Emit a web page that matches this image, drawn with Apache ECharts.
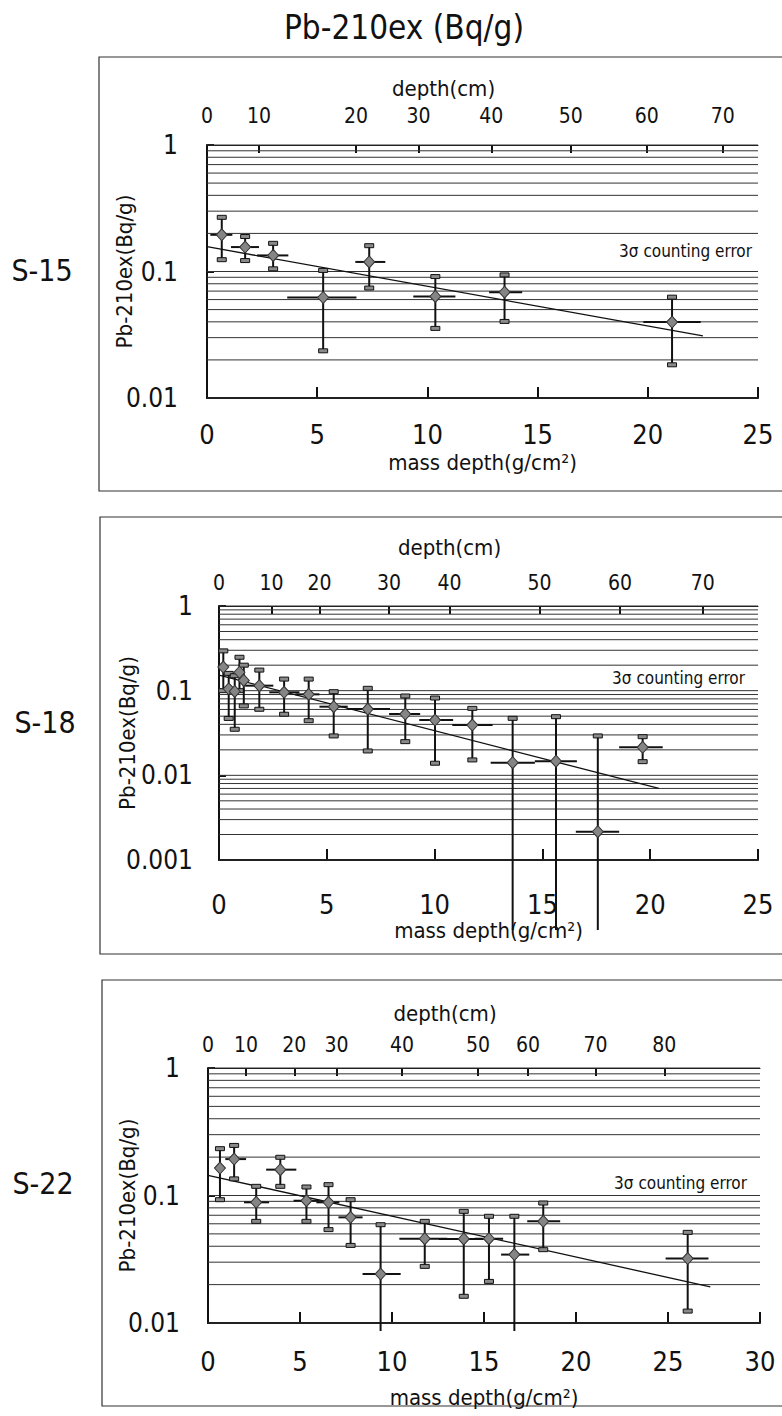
<!DOCTYPE html>
<html>
<head>
<meta charset="utf-8">
<title>Pb-210ex (Bq/g)</title>
<script src="https://cdn.jsdelivr.net/npm/echarts@6/dist/echarts.min.js"></script>
<style>
  html, body { margin: 0; padding: 0; background: #fff; }
  #chart { width: 782px; height: 1416px; }
</style>
</head>
<body>
<div id="chart"></div>
<script>
const FONT = '"DejaVu Sans Condensed", "Liberation Sans Narrow", "DejaVu Sans", sans-serif';

// ---- S-15 ----
const s15Mass   = [0.67, 1.73, 3.0, 5.27, 7.36, 10.36, 13.5, 21.1];
const s15Pb     = [0.195, 0.156, 0.134, 0.0623, 0.119, 0.0635, 0.0687, 0.0398];
const s15PbHi   = [0.268, 0.189, 0.167, 0.102, 0.160, 0.0912, 0.094, 0.0627];
const s15PbLo   = [0.124, 0.122, 0.105, 0.0236, 0.074, 0.0355, 0.0403, 0.0183];
const s15MassLo = [0.15, 1.09, 2.27, 3.64, 6.73, 9.36, 12.8, 19.8];
const s15MassHi = [1.15, 2.36, 3.69, 6.78, 8.09, 11.27, 14.3, 22.4];
const s15Fit    = [[0, 0.157], [22.5, 0.031]];
const s15DepthLabels = [0, 10, 20, 30, 40, 50, 60, 70];
const s15DepthAtMass = [0, 2.36, 6.76, 9.6, 12.9, 16.5, 19.95, 23.4];

// ---- S-18 ---- (lower bound 0 = 3σ interval reaches below zero)
const s18Mass   = [0.2, 0.45, 0.73, 0.95, 1.15, 1.87, 3.02, 4.16, 5.32, 6.9, 8.64, 10.02, 11.75, 13.62, 15.63, 17.57, 19.65];
const s18Pb     = [0.19, 0.105, 0.098, 0.165, 0.132, 0.1146, 0.0956, 0.0905, 0.0647, 0.0607, 0.053, 0.045, 0.0393, 0.0141, 0.0147, 0.00216, 0.0214];
const s18PbHi   = [0.295, 0.16, 0.15, 0.248, 0.20, 0.175, 0.137, 0.137, 0.0973, 0.1066, 0.0865, 0.0819, 0.0618, 0.0471, 0.0493, 0.0292, 0.0286];
const s18PbLo   = [0.10, 0.047, 0.035, 0.10, 0.066, 0.0603, 0.0527, 0.0442, 0.0292, 0.0194, 0.025, 0.0139, 0.0152, 0, 0, 0, 0.0145];
const s18MassLo = [0, 0.3, 0.6, 0.8, 1.0, 1.21, 2.33, 3.54, 4.66, 5.93, 7.89, 9.29, 10.82, 12.6, 14.65, 16.55, 18.56];
const s18MassHi = [0.4, 0.6, 0.85, 1.1, 1.3, 2.52, 3.73, 4.66, 5.97, 7.93, 9.33, 10.86, 12.69, 14.65, 16.6, 18.56, 20.58];
const s18Fit    = [[0, 0.153], [20.4, 0.0070]];
const s18DepthLabels = [0, 10, 20, 30, 40, 50, 60, 70];
const s18DepthAtMass = [0, 2.43, 4.66, 7.89, 10.69, 14.87, 18.6, 22.44];

// ---- S-22 ----
const s22Mass   = [0.65, 1.42, 2.62, 3.93, 5.35, 6.55, 7.75, 9.38, 11.78, 13.9, 15.27, 16.65, 18.22, 26.07];
const s22Pb     = [0.164, 0.193, 0.0884, 0.1595, 0.091, 0.0884, 0.0674, 0.0242, 0.0458, 0.0456, 0.0458, 0.0344, 0.0627, 0.032];
const s22PbHi   = [0.233, 0.247, 0.118, 0.1994, 0.1166, 0.1216, 0.0927, 0.059, 0.0627, 0.0751, 0.0687, 0.0687, 0.0873, 0.0514];
const s22PbLo   = [0.0927, 0.135, 0.0627, 0.118, 0.0627, 0.054, 0.0406, 0, 0.0278, 0.0162, 0.0212, 0, 0.0376, 0.0124];
const s22MassLo = [0.45, 0.94, 1.96, 3.16, 4.65, 5.89, 7.09, 8.4, 10.4, 12.55, 14.5, 15.93, 17.35, 24.87];
const s22MassHi = [0.85, 2.07, 3.32, 4.8, 6.07, 7.14, 8.4, 10.47, 13.0, 14.95, 16.04, 17.46, 19.14, 27.2];
const s22Fit    = [[0, 0.144], [27.3, 0.0192]];
const s22DepthLabels = [0, 10, 20, 30, 40, 50, 60, 70, 80];
const s22DepthAtMass = [0, 2.07, 4.69, 6.98, 10.54, 14.68, 17.39, 21.06, 24.8];

// Panel layout and per-panel styling
const panels = [
  { name: 'S-15', mass: s15Mass, pb: s15Pb, hi: s15PbHi, lo: s15PbLo, mLo: s15MassLo, mHi: s15MassHi, fit: s15Fit,
    depthLabels: s15DepthLabels, depthAt: s15DepthAtMass, xMax: 25, yMin: 0.01,
    grid: { left: 207, top: 145, width: 551, height: 253 },
    box: { x: 99, y: 57, h: 434 }, tag: { x: 42, y: 270 }, note: { x: 752, y: 251 },
    topMargin: 19, topNameGap: 46, botMargin: 23, botNameGap: 53, yMargin: 29, yNameGap: 72, belowExt: 8 },
  { name: 'S-18', mass: s18Mass, pb: s18Pb, hi: s18PbHi, lo: s18PbLo, mLo: s18MassLo, mHi: s18MassHi, fit: s18Fit,
    depthLabels: s18DepthLabels, depthAt: s18DepthAtMass, xMax: 25, yMin: 0.001,
    grid: { left: 219, top: 606, width: 539, height: 254 },
    box: { x: 100, y: 517, h: 437 }, tag: { x: 45, y: 722 }, note: { x: 745, y: 678 },
    topMargin: 13, topNameGap: 48, botMargin: 31, botNameGap: 59, yMargin: 26, yNameGap: 81, belowExt: 70 },
  { name: 'S-22', mass: s22Mass, pb: s22Pb, hi: s22PbHi, lo: s22PbLo, mLo: s22MassLo, mHi: s22MassHi, fit: s22Fit,
    depthLabels: s22DepthLabels, depthAt: s22DepthAtMass, xMax: 30, yMin: 0.01,
    grid: { left: 208, top: 1068, width: 552, height: 255 },
    box: { x: 102, y: 980, h: 426 }, tag: { x: 43, y: 1183 }, note: { x: 747, y: 1183 },
    topMargin: 13, topNameGap: 44, botMargin: 25, botNameGap: 63, yMargin: 28, yNameGap: 70, belowExt: 8 }
];

const INK = '#111';

function logGridValues(yMin) {
  const vals = [];
  const d0 = Math.round(Math.log10(yMin));
  for (let d = d0; d < 0; d++) {
    for (let k = 1; k <= 9; k++) vals.push(+(k * Math.pow(10, d)).toPrecision(6));
  }
  vals.push(1);
  return vals;
}

function decadeLabel(v) {
  const e = Math.round(Math.log10(v));
  return e >= 0 ? String(Math.pow(10, e)) : Math.pow(10, e).toFixed(-e);
}

function depthLabelFor(p, v) {
  let best = 0, bd = Infinity;
  p.depthAt.forEach((m, i) => { const d = Math.abs(m - v); if (d < bd) { bd = d; best = i; } });
  return String(p.depthLabels[best]);
}

const grids = [], xAxes = [], yAxes = [], series = [], graphics = [];

graphics.push({
  type: 'text', x: 404, y: 27, z: 10,
  style: { text: 'Pb-210ex (Bq/g)', font: '33px ' + FONT, fill: INK, textAlign: 'center', textVerticalAlign: 'middle' }
});

panels.forEach((p, i) => {
  grids.push(Object.assign({ containLabel: false }, p.grid));

  // bottom: mass depth
  xAxes.push({
    type: 'value', gridIndex: i, position: 'bottom', min: 0, max: p.xMax, interval: 5,
    axisLine: { onZero: false, lineStyle: { color: INK, width: 2 } },
    axisTick: { inside: true, length: 11, lineStyle: { color: INK, width: 2 } },
    axisLabel: { margin: p.botMargin, fontSize: 27, color: INK, fontFamily: FONT },
    splitLine: { show: false },
    name: 'mass depth(g/cm²)', nameLocation: 'middle', nameGap: p.botNameGap, nameMoveOverlap: false,
    nameTextStyle: { fontSize: 22, color: INK, fontFamily: FONT }
  });
  // top: depth in cm placed at the matching mass depth
  xAxes.push({
    type: 'value', gridIndex: i, position: 'top', min: 0, max: p.xMax,
    axisLine: { onZero: false, lineStyle: { color: INK, width: 1 } },
    axisTick: { inside: true, length: 8, customValues: p.depthAt, lineStyle: { color: INK, width: 2 } },
    axisLabel: { customValues: p.depthAt, formatter: v => depthLabelFor(p, v), margin: p.topMargin,
                 fontSize: 21, color: INK, fontFamily: FONT },
    splitLine: { show: false },
    name: 'depth(cm)', nameLocation: 'middle', nameGap: p.topNameGap, nameMoveOverlap: false,
    nameTextStyle: { fontSize: 22, color: INK, fontFamily: FONT, padding: [0, 78, 0, 0] }
  });
  yAxes.push({
    type: 'log', logBase: 10, gridIndex: i, min: p.yMin, max: 1,
    axisLine: { show: true, onZero: false, lineStyle: { color: INK, width: 2 } },
    axisTick: { show: true, inside: true, length: 7, lineStyle: { color: INK, width: 2 } },
    axisLabel: { margin: p.yMargin, fontSize: 26, color: INK, fontFamily: FONT, formatter: decadeLabel },
    splitLine: { show: false },
    name: 'Pb-210ex(Bq/g)', nameLocation: 'middle', nameGap: p.yNameGap, nameRotate: 90, nameMoveOverlap: false,
    nameTextStyle: { fontSize: 22, color: INK, fontFamily: FONT }
  });

  const xb = 2 * i;

  // horizontal log grid lines (1-9 per decade)
  series.push({
    type: 'custom', xAxisIndex: xb, yAxisIndex: i, z: 1, silent: true,
    data: logGridValues(p.yMin).map(v => [0, v]),
    encode: { x: 0, y: 1 },
    renderItem: (params, api) => {
      const v = api.value(1);
      const a = api.coord([0, v]), b = api.coord([p.xMax, v]);
      return { type: 'line', shape: { x1: a[0], y1: a[1], x2: b[0], y2: b[1] },
               style: { stroke: '#333', lineWidth: 1 } };
    }
  });

  // fitted exponential decay
  series.push({
    type: 'line', xAxisIndex: xb, yAxisIndex: i, z: 2, silent: true,
    data: p.fit, showSymbol: false, symbol: 'none',
    lineStyle: { color: INK, width: 1.3 }
  });

  // horizontal bars: sampled layer span
  series.push({
    type: 'custom', xAxisIndex: xb, yAxisIndex: i, z: 3, silent: true,
    data: p.mass.map((m, k) => [p.mLo[k], p.mHi[k], p.pb[k]]),
    encode: { x: [0, 1], y: 2 },
    renderItem: (params, api) => {
      const a = api.coord([api.value(0), api.value(2)]);
      const b = api.coord([api.value(1), api.value(2)]);
      return { type: 'line', shape: { x1: a[0], y1: a[1], x2: b[0], y2: b[1] },
               style: { stroke: INK, lineWidth: 2 } };
    }
  });

  // vertical bars: 3σ counting error
  series.push({
    type: 'custom', xAxisIndex: xb, yAxisIndex: i, z: 4, silent: true, clip: false,
    data: p.mass.map((m, k) => [m, p.lo[k], p.hi[k]]),
    encode: { x: 0, y: 2 },
    renderItem: (params, api) => {
      const x = api.value(0), lo = api.value(1), hi = api.value(2);
      const top = api.coord([x, hi]);
      let bot;
      if (lo > 0) bot = api.coord([x, lo]);
      else { const b = api.coord([x, p.yMin]); bot = [b[0], b[1] + p.belowExt]; }
      const cap = pt => ({ type: 'rect', shape: { x: pt[0] - 4.5, y: pt[1] - 2, width: 9, height: 4 },
                           style: { fill: '#8a8a8a', stroke: INK, lineWidth: 1 } });
      const kids = [{ type: 'line', shape: { x1: top[0], y1: top[1], x2: bot[0], y2: bot[1] },
                      style: { stroke: INK, lineWidth: 2 } }, cap(top)];
      if (lo > 0) kids.push(cap(bot));
      return { type: 'group', children: kids };
    }
  });

  // measured activity
  series.push({
    type: 'scatter', xAxisIndex: xb, yAxisIndex: i, z: 5, silent: true,
    data: p.mass.map((m, k) => [m, p.pb[k]]),
    symbol: 'diamond', symbolSize: [11, 12],
    itemStyle: { color: '#858585', borderColor: '#333', borderWidth: 1, opacity: 1 }
  });

  graphics.push({
    type: 'rect', z: 0, silent: true,
    shape: { x: p.box.x, y: p.box.y, width: 782 - p.box.x + 20, height: p.box.h },
    style: { fill: 'none', stroke: '#333', lineWidth: 1.2 }
  });
  graphics.push({
    type: 'text', z: 10, x: p.tag.x, y: p.tag.y,
    style: { text: p.name, font: '30px ' + FONT, fill: INK, textAlign: 'center', textVerticalAlign: 'middle' }
  });
  graphics.push({
    type: 'text', z: 10, x: p.note.x, y: p.note.y,
    style: { text: '3σ counting error', font: '17px ' + FONT, fill: INK, textAlign: 'right', textVerticalAlign: 'middle' }
  });
});

const chart = echarts.init(document.getElementById('chart'), null, { renderer: 'svg', width: 782, height: 1416 });
chart.setOption({
  animation: false,
  backgroundColor: '#fff',
  grid: grids,
  xAxis: xAxes,
  yAxis: yAxes,
  series: series,
  graphic: graphics
});
</script>
</body>
</html>
